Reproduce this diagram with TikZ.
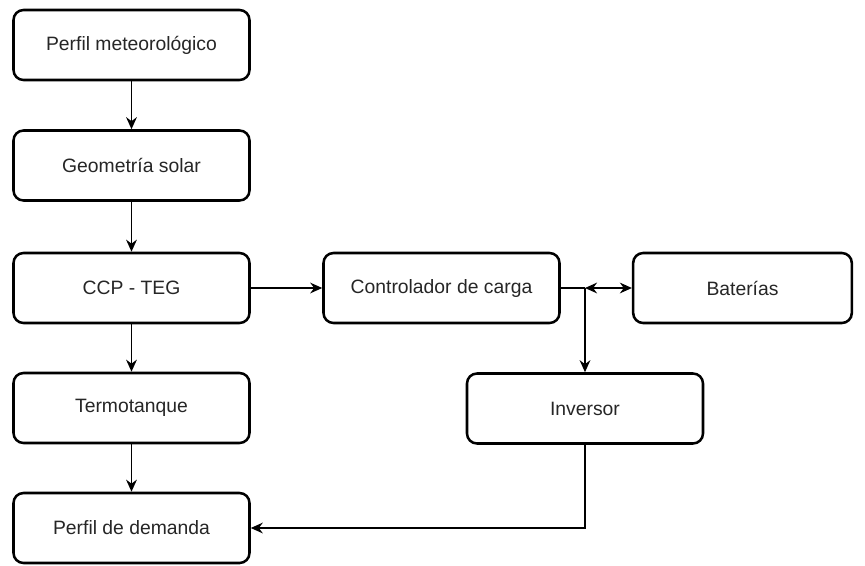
\documentclass[tikz,border=0pt]{standalone}
\usepackage{fontspec}
\setmainfont{Liberation Sans}
\usetikzlibrary{arrows.meta}
\begin{document}
\begin{tikzpicture}[x=0.75pt,y=-0.75pt,
  box/.style={draw=black, line width=1.9pt, rounded corners=7.5pt, fill=white,
    minimum width=177pt, minimum height=52.5pt, font=\fontsize{14.5}{17}\selectfont, text=black!85, inner sep=0pt},
  tip/.style={Stealth[length=9pt,width=8pt]},
  conn/.style={line width=1.4pt, -{Stealth[length=9pt,width=8pt]}},
  plain/.style={line width=1.4pt}]
\useasboundingbox (0,0) rectangle (865,565);
\node[box] (pm) at (131.5,45) {Perfil meteorológico};
\node[box] (gs) at (131.5,165.5) {Geometría solar};
\node[box] (ccp) at (131.5,288) {CCP - TEG};
\node[box] (tt) at (131.5,408) {Termotanque};
\node[box] (pd) at (131.5,528) {Perfil de demanda};
\node[box] (cc) at (441.5,288) {Controlador de carga};
\node[box, minimum width=164pt] (bat) at (742.5,288) {Baterías};
\node[box] (inv) at (585,408.5) {Inversor};
\coordinate (j) at (585,288);
\draw[conn] (pm) -- (gs);
\draw[conn] (gs) -- (ccp);
\draw[conn] (ccp) -- (tt);
\draw[conn] (tt) -- (pd);
\draw[conn] (ccp) -- (cc);
\draw[plain] (cc) -- (j);
\draw[line width=1.4pt, {Stealth[length=9pt,width=8pt]}-{Stealth[length=9pt,width=8pt]}] (j) -- (bat);
\draw[conn] (j) -- (inv);
\draw[conn] (inv.south) |- (pd.east);
\end{tikzpicture}
\end{document}
